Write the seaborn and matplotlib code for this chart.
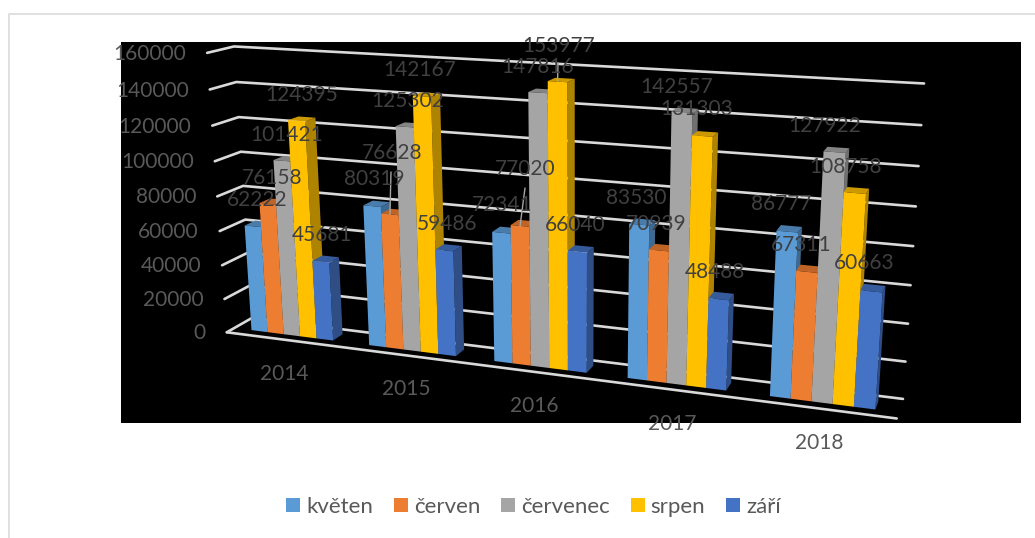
import numpy as np
import pandas as pd
import matplotlib
matplotlib.use("Agg")
import matplotlib.pyplot as plt
from matplotlib.colors import to_rgb
from matplotlib.lines import Line2D
from matplotlib.patches import Polygon, Rectangle
from matplotlib.transforms import Transform
import seaborn as sns

# Visitor counts per year and month
years = [2014, 2015, 2016, 2017, 2018]
months = ["květen", "červen", "červenec", "srpen", "září"]
kveten = [62222, 80319, 72341, 83530, 86777]
cerven = [76158, 76628, 77020, 70939, 67311]
cervenec = [101421, 125302, 147816, 142557, 127922]
srpen = [124395, 142167, 153977, 131303, 108758]
zari = [45681, 59486, 66040, 48488, 60663]
colors = ["#5B9BD5", "#ED7D31", "#A5A5A5", "#FFC000", "#4472C4"]
y_ticks = [0, 20000, 40000, 60000, 80000, 100000, 120000, 140000, 160000]

# Hand-placed data labels (pixel centres), one row per year
label_centres = [
    [(257, 200), (272, 178), (287, 135), (302, 95), (322, 235)],
    [(374, 179), (392, 153), (408, 101), (420, 70), (447, 224)],
    [(502, 205), (525, 169), (538, 67), (559, 46), (575, 225)],
    [(636, 198), (656, 224), (677, 87), (697, 109), (715, 272)],
    [(781, 204), (801, 245), (825, 126), (846, 167), (864, 263)],
]
# Labels pulled away from their bars get a leader line: (year, month, line start)
leaders = [(1, 1, (391, 172)), (2, 1, (525, 188)), (2, 3, (558, 63))]

# Oblique camera: (category, value / 1e5, depth) -> canvas pixel
camera_points = [
    (-0.5, 0.0, 0, 226, 332), (4.5, 0.0, 0, 897, 418),
    (-0.5, 1.6, 0, 208, 53), (-0.5, 0.8, 0, 217, 197),
    (-0.5, 0.0, 1, 252, 318), (-0.5, 1.6, 1, 233, 46),
    (-0.5, 0.8, 1, 244, 186), (4.5, 1.6, 1, 924, 83),
    (4.5, 0.8, 1, 913, 247), (4.5, 0.0, 1, 903, 399),
]
rows = []
for cx, cy, cd, u, v in camera_points:
    rows.append([cx, cy, cd, 1, 0, 0, 0, 0, -u * cx, -u * cy, -u * cd, -u])
    rows.append([0, 0, 0, 0, cx, cy, cd, 1, -v * cx, -v * cy, -v * cd, -v])
CAMERA = np.linalg.svd(np.array(rows, float))[2][-1].reshape(3, 4)


def project(x, value, depth):
    h = CAMERA @ np.array([x, value / 1e5, depth, 1.0])
    return h[0] / h[2], h[1] / h[2]


class PlaneProjection(Transform):
    """Maps (category, value) on a plane of constant depth to canvas pixels."""
    input_dims = output_dims = 2
    is_affine = False
    has_inverse = False

    def __init__(self, plane_depth):
        super().__init__()
        self.plane_depth = plane_depth

    def transform_non_affine(self, values):
        values = np.asarray(values, float)
        pts = np.column_stack([values[:, 0], values[:, 1] / 1e5,
                               np.full(len(values), self.plane_depth), np.ones(len(values))])
        h = pts @ CAMERA.T
        return h[:, :2] / h[:, 2:3]


sns.set_theme(style="white")
plt.rcParams["font.family"] = ["Lato", "DejaVu Sans"]
FONT = 15.0
LEGEND_FONT = 16
TICK_GREY = "#595959"
LABEL_GREY = "#404040"
GRID = "#D9D9D9"
BAR_FRONT, BAR_BACK = 0.3, 0.72

df = pd.DataFrame({
    "rok": np.tile(years, len(months)),
    "měsíc": np.repeat(months, len(years)),
    "počet": kveten + cerven + cervenec + srpen + zari,
})

fig = plt.figure(figsize=(10.35, 5.38), dpi=100, facecolor="white")
ax = fig.add_axes([0, 0, 1, 1])
sns.barplot(data=df, x="rok", y="počet", hue="měsíc", hue_order=months, order=years,
            palette=colors, saturation=1, width=0.7, gap=0, linewidth=0, ax=ax)

# Canvas pixels become the axes' data space; bars are then re-routed through the camera
ax.set_xlim(0, 1035)
ax.set_ylim(538, 0)
ax.set_axis_off()

ax.add_patch(Rectangle((121, 42), 900, 381, facecolor="black", edgecolor="none", zorder=0))
ax.add_line(Line2D([9, 9, 1035], [538, 14, 14], color="#E0E0E0", lw=1.4, zorder=0))

front_plane = PlaneProjection(BAR_FRONT) + ax.transData

# Gridlines run along the left wall, then across the back wall
for tick in y_ticks:
    pts = [project(-0.5, tick, 0), project(-0.5, tick, 1), project(4.5, tick, 1)]
    ax.add_line(Line2D(*zip(*pts), color=GRID, lw=1.9, zorder=1))
    ax.annotate(str(tick), xy=pts[0], xytext=(-21, -1), textcoords="offset pixels",
                ha="right", va="center", color=TICK_GREY, fontsize=FONT, zorder=200)
ax.add_line(Line2D(*zip(project(-0.5, 0, 0), project(4.5, 0, 0)), color=GRID, lw=1.9, zorder=1))

for i, year in enumerate(years):
    ax.annotate(str(year), xy=project(i, 0, 0), xytext=(0, -34), textcoords="offset pixels",
                ha="center", va="center", color=TICK_GREY, fontsize=FONT, zorder=200)

# Each bar: extruded side and top first, the front face from seaborn over them
for s, container in enumerate(ax.containers):
    rgb = np.array(to_rgb(colors[s]))
    for g, bar in enumerate(container):
        x0, x1, h = bar.get_x(), bar.get_x() + bar.get_width(), bar.get_height()
        z = 10 + g * 10 + s
        side = [project(x1, 0, BAR_FRONT), project(x1, h, BAR_FRONT),
                project(x1, h, BAR_BACK), project(x1, 0, BAR_BACK)]
        top = [project(x0, h, BAR_FRONT), project(x1, h, BAR_FRONT),
               project(x1, h, BAR_BACK), project(x0, h, BAR_BACK)]
        ax.add_patch(Polygon(side, facecolor=rgb * 0.68, edgecolor="none", zorder=z))
        ax.add_patch(Polygon(top, facecolor=rgb * 0.8, edgecolor="none", zorder=z))
        bar.set_transform(front_plane)
        bar.set_zorder(z + 0.5)
        bar.set_clip_on(False)

series = [kveten, cerven, cervenec, srpen, zari]
for g, row in enumerate(label_centres):
    for s, (cx, cy) in enumerate(row):
        ax.text(cx, cy, str(series[s][g]), ha="center", va="center",
                color=LABEL_GREY, fontsize=FONT, zorder=210)

for g, s, start in leaders:
    bar = ax.containers[s][g]
    end = project(bar.get_x() + bar.get_width() / 2, bar.get_height(), BAR_FRONT)
    ax.add_line(Line2D([start[0], end[0]], [start[1], end[1]], color="#A6A6A6", lw=1, zorder=205))

sns.move_legend(ax, "center", bbox_to_anchor=(533.5 / 1035, 1 - 507 / 538), ncol=5, title=None,
                frameon=False, fontsize=LEGEND_FONT, labelcolor=TICK_GREY, handlelength=0.63,
                handleheight=0.63, handletextpad=0.27, columnspacing=0.94)

fig.savefig("out.png", dpi=100, facecolor="white")
